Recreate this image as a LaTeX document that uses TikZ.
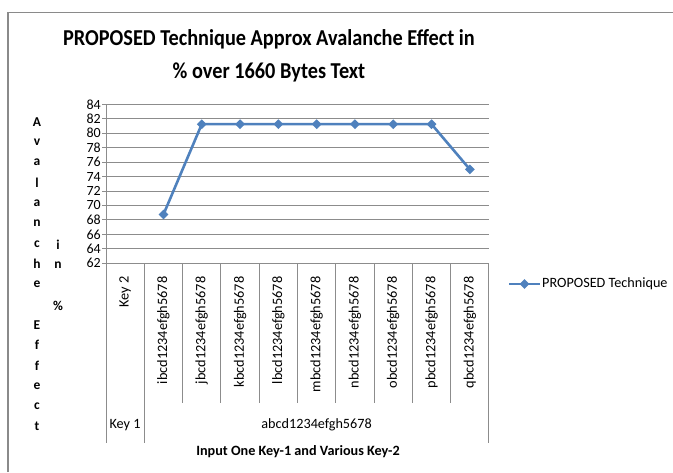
\documentclass[tikz,border=0pt]{standalone}
\usepackage{fontspec}
\setmainfont{Carlito}
\usetikzlibrary{positioning, arrows.meta, shapes.geometric}

\definecolor{seriesblue}{HTML}{4F81BD}
\definecolor{gridgray}{HTML}{8C8C8C}
\definecolor{framegray}{HTML}{8A8A8A}

\begin{document}
\begin{tikzpicture}[
        x=1pt, y=-1pt,
        grid line/.style={draw=gridgray, line width=0.9pt},
        frame line/.style={draw=framegray, line width=1.3pt},
        tick label/.style={font=\fontsize{14}{16}\selectfont, anchor=east, inner sep=1pt},
        key label/.style={font=\fontsize{14.3}{16}\selectfont, rotate=90, anchor=east, inner sep=0pt},
        plain text/.style={font=\fontsize{14.2}{16}\selectfont},
        series/.style={draw=seriesblue, line width=2.6pt, line join=round},
        marker/.style={diamond, fill=seriesblue, draw=none, minimum size=10pt, inner sep=0pt},
        axis letter/.style={font=\bfseries\fontsize{13.5}{15}\selectfont, inner sep=0pt}
    ]
    \useasboundingbox (0,0) rectangle (673,472);
    % chart frame (right and bottom edges are cut off)
    \draw[frame line] (8,472) -- (8,12.5) -- (673,12.5);

    % title
    \node (Title) [font=\bfseries\fontsize{20.3}{29}\selectfont, align=center, yscale=1.12] at (269,56)
        {PROPOSED Technique Approx Avalanche Effect in\\\% over 1660 Bytes Text};

    % value axis and grid
    \foreach \i in {0,...,11} {
        \pgfmathsetmacro{\gy}{104.3+\i*14.45}
        \pgfmathtruncatemacro{\gv}{84-2*\i}
        \draw[grid line] (102,\gy) -- (489,\gy);
        \node (T\gv) [tick label] at (102,\gy) {\gv};
    }
    \draw[grid line] (106,104.3) -- (106,443);

    % category grid
    \draw[grid line] (144.3,263.3) -- (144.3,443);
    \draw[grid line] (488.9,263.3) -- (488.9,443);
    \foreach \k in {2,...,9}
        \draw[grid line] (106+38.3*\k,263.3) -- (106+38.3*\k,403);

    % Key 2 labels
    \foreach \lab [count=\k from 0] in {Key 2, ibcd1234efgh5678, jbcd1234efgh5678,
            kbcd1234efgh5678, lbcd1234efgh5678, mbcd1234efgh5678, nbcd1234efgh5678,
            obcd1234efgh5678, pbcd1234efgh5678, qbcd1234efgh5678}
        \node (C\k) [key label] at (106+38.3*\k+19.15,276.5) {\lab};

    % Key 1 row
    \node (KeyOne) [plain text] at (125,425) {Key 1};
    \node (KeyOneVal) [plain text] at (316.6,425) {abcd1234efgh5678};

    % axis titles
    \node (XTitle) [font=\bfseries\fontsize{14.2}{16}\selectfont] at (298,452)
        {Input One Key-1 and Various Key-2};
    \foreach \ch [count=\n from 0] in {A,v,a,l,a,n,c,h,e,{},E,f,f,e,c,t}
        \node (Y\n) [axis letter] at (37,122+20.3*\n) {\ch};
    \foreach \ch [count=\n from 0] in {i,n,{},\%}
        \node (Z\n) [axis letter] at (58,244.5+20.3*\n) {\ch};

    % data series
    \foreach \v [count=\k] in {68.75,81.25,81.25,81.25,81.25,81.25,81.25,81.25,75}
        \coordinate (p\k) at (106+38.3*\k+19.15,263.3-7.227*\v+7.227*62);
    \draw[series] (p1) -- (p2) -- (p3) -- (p4) -- (p5) -- (p6) -- (p7) -- (p8) -- (p9);
    \foreach \k in {1,...,9}
        \node (m\k) [marker] at (p\k) {};

    % legend
    \coordinate (legA) at (509,284);
    \coordinate (legB) at (540,284);
    \draw[series] (legA) -- (legB);
    \node (legM) [marker] at (524.5,284) {};
    \node (legT) [plain text, anchor=west, inner sep=1pt] at (541,284)
        {PROPOSED Technique};
\end{tikzpicture}
\end{document}
